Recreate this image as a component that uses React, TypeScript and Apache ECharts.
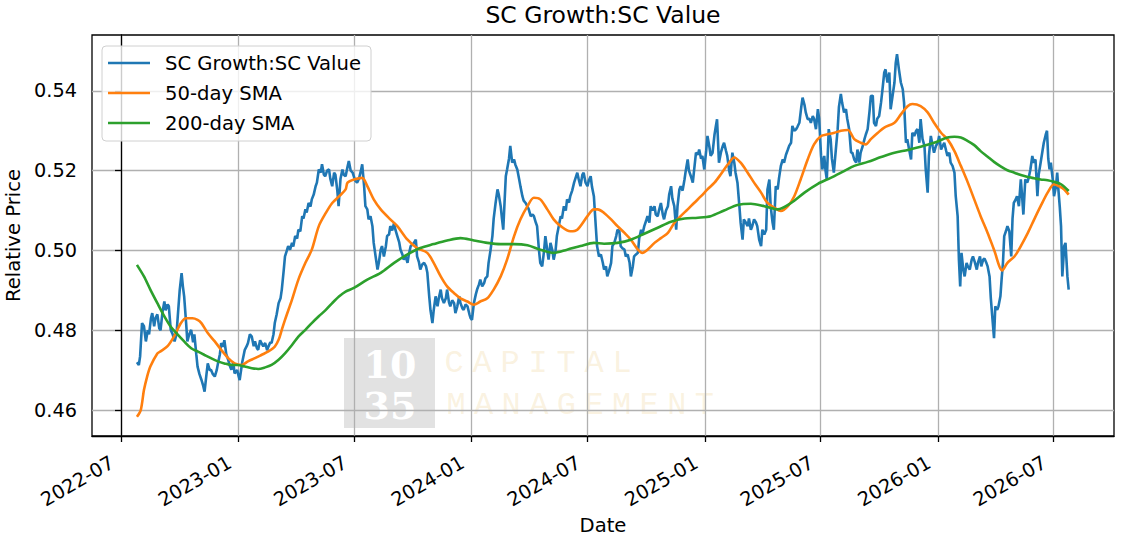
import React, { useEffect, useRef } from "react";
import * as echarts from "echarts";

// x positions are days counted from 2022-07-01
const xTickDays = [0, 184, 365, 549, 731, 915, 1096, 1280, 1461];
const xTickLabels = ["2022-07", "2023-01", "2023-07", "2024-01", "2024-07", "2025-01", "2025-07", "2026-01", "2026-07"];
const yTicks = [0.46, 0.48, 0.5, 0.52, 0.54];

const ratio: [number, number][] = [
  [25, 0.4720], [28, 0.4713], [30, 0.4735], [33, 0.4818], [36, 0.4810], [39, 0.4772], [42, 0.4800], [44, 0.4790],
  [47, 0.4830], [49, 0.4843], [52, 0.4810], [54, 0.4830], [57, 0.4840], [60, 0.4805], [62, 0.4800], [65, 0.4845],
  [68, 0.4872], [70, 0.4850], [73, 0.4865], [75, 0.4860], [78, 0.4801], [81, 0.4790], [84, 0.4772], [87, 0.4790],
  [89, 0.4835], [92, 0.4900], [95, 0.4943], [97, 0.4910], [99, 0.4885], [102, 0.4820], [104, 0.4772], [107, 0.4790],
  [110, 0.4801], [113, 0.4770], [115, 0.4790], [118, 0.4740], [120, 0.4709], [123, 0.4690], [126, 0.4676], [129, 0.4660],
  [131, 0.4646], [134, 0.4690], [136, 0.4717], [139, 0.4700], [141, 0.4701], [144, 0.4690], [147, 0.4684], [150, 0.4700],
  [152, 0.4717], [155, 0.4740], [157, 0.4768], [160, 0.4759], [162, 0.4775], [165, 0.4740], [168, 0.4726], [171, 0.4709],
  [173, 0.4701], [176, 0.4720], [178, 0.4692], [182, 0.4700], [186, 0.4675], [190, 0.4720], [194, 0.4751], [197, 0.4760],
  [199, 0.4768], [202, 0.4790], [205, 0.4784], [208, 0.4760], [210, 0.4772], [213, 0.4755], [215, 0.4751], [218, 0.4775],
  [220, 0.4768], [223, 0.4760], [226, 0.4768], [229, 0.4750], [231, 0.4759], [234, 0.4770], [236, 0.4768], [239, 0.4790],
  [241, 0.4818], [244, 0.4840], [247, 0.4868], [250, 0.4880], [252, 0.4902], [255, 0.4950], [257, 0.4985], [260, 0.5000],
  [262, 0.5011], [265, 0.5002], [268, 0.5019], [270, 0.5010], [273, 0.5036], [276, 0.5030], [278, 0.5052], [281, 0.5048],
  [284, 0.5086], [286, 0.5080], [289, 0.5103], [291, 0.5095], [294, 0.5119], [297, 0.5110], [299, 0.5128], [302, 0.5140],
  [305, 0.5161], [307, 0.5170], [310, 0.5203], [313, 0.5195], [315, 0.5216], [318, 0.5190], [320, 0.5186], [323, 0.5200],
  [326, 0.5203], [328, 0.5180], [331, 0.5161], [334, 0.5195], [336, 0.5190], [339, 0.5150], [341, 0.5111], [344, 0.5180],
  [347, 0.5203], [349, 0.5190], [352, 0.5186], [355, 0.5210], [357, 0.5224], [360, 0.5200], [363, 0.5195], [367, 0.5175],
  [370, 0.5170], [373, 0.5180], [376, 0.5200], [378, 0.5216], [381, 0.5161], [383, 0.5111], [386, 0.5103], [388, 0.5078],
  [391, 0.5086], [394, 0.5061], [396, 0.5019], [399, 0.4985], [402, 0.4952], [404, 0.4969], [407, 0.5002], [409, 0.5011],
  [412, 0.4985], [415, 0.5010], [417, 0.5036], [420, 0.5040], [422, 0.5061], [425, 0.5050], [428, 0.5069], [430, 0.5052],
  [433, 0.5036], [436, 0.5020], [438, 0.5002], [441, 0.4990], [443, 0.4977], [446, 0.4985], [449, 0.4969], [451, 0.4990],
  [454, 0.5011], [457, 0.5015], [459, 0.5019], [462, 0.5027], [464, 0.4985], [467, 0.4970], [469, 0.4952], [472, 0.4965],
  [475, 0.4969], [478, 0.4960], [480, 0.4945], [483, 0.4885], [485, 0.4850], [488, 0.4818], [490, 0.4850], [493, 0.4885],
  [496, 0.4860], [498, 0.4880], [501, 0.4902], [503, 0.4880], [506, 0.4868], [509, 0.4880], [511, 0.4902], [514, 0.4870],
  [516, 0.4860], [519, 0.4875], [522, 0.4868], [524, 0.4843], [527, 0.4860], [530, 0.4885], [532, 0.4868], [535, 0.4855],
  [537, 0.4851], [540, 0.4865], [543, 0.4860], [546, 0.4840], [548, 0.4830], [550, 0.4826], [553, 0.4868], [556, 0.4890],
  [558, 0.4902], [561, 0.4915], [563, 0.4927], [566, 0.4910], [569, 0.4918], [571, 0.4930], [574, 0.4935], [576, 0.4969],
  [579, 0.5000], [582, 0.5036], [584, 0.5080], [587, 0.5119], [590, 0.5153], [592, 0.5140], [595, 0.5111], [597, 0.5080],
  [599, 0.5052], [601, 0.5120], [603, 0.5186], [605, 0.5203], [608, 0.5230], [610, 0.5262], [613, 0.5220], [616, 0.5228],
  [618, 0.5215], [621, 0.5203], [624, 0.5178], [626, 0.5160], [629, 0.5136], [631, 0.5125], [634, 0.5119], [637, 0.5110],
  [639, 0.5103], [642, 0.5086], [645, 0.5090], [647, 0.5086], [650, 0.5070], [652, 0.5061], [655, 0.5000], [657, 0.4969],
  [660, 0.4960], [663, 0.5000], [665, 0.5036], [668, 0.5000], [670, 0.4977], [673, 0.5019], [676, 0.5000], [678, 0.4977],
  [681, 0.5000], [683, 0.5036], [686, 0.5061], [689, 0.5086], [691, 0.5080], [694, 0.5111], [697, 0.5100], [699, 0.5128],
  [702, 0.5120], [704, 0.5136], [707, 0.5150], [710, 0.5170], [712, 0.5180], [715, 0.5195], [717, 0.5180], [720, 0.5161],
  [723, 0.5190], [725, 0.5195], [728, 0.5170], [731, 0.5161], [733, 0.5175], [736, 0.5186], [738, 0.5160], [741, 0.5136],
  [744, 0.5060], [746, 0.5011], [749, 0.4985], [752, 0.4990], [755, 0.4969], [757, 0.4952], [760, 0.4960], [762, 0.4935],
  [765, 0.4950], [768, 0.4969], [770, 0.5011], [773, 0.5019], [776, 0.5036], [778, 0.5052], [781, 0.5048], [783, 0.5011],
  [786, 0.5005], [789, 0.5002], [791, 0.4985], [794, 0.4990], [797, 0.4969], [799, 0.4935], [802, 0.4960], [804, 0.4985],
  [807, 0.4990], [810, 0.4994], [812, 0.5030], [815, 0.5052], [817, 0.5040], [820, 0.5061], [823, 0.5075], [825, 0.5086],
  [828, 0.5070], [830, 0.5111], [833, 0.5100], [836, 0.5111], [838, 0.5090], [841, 0.5086], [843, 0.5100], [846, 0.5119],
  [849, 0.5090], [851, 0.5078], [854, 0.5100], [857, 0.5111], [859, 0.5140], [862, 0.5161], [864, 0.5130], [867, 0.5111],
  [870, 0.5052], [872, 0.5110], [875, 0.5153], [877, 0.5161], [880, 0.5150], [883, 0.5178], [885, 0.5200], [888, 0.5228],
  [890, 0.5200], [893, 0.5186], [896, 0.5170], [898, 0.5200], [901, 0.5245], [904, 0.5240], [906, 0.5253], [909, 0.5230],
  [911, 0.5237], [914, 0.5203], [917, 0.5250], [919, 0.5287], [922, 0.5260], [924, 0.5237], [927, 0.5245], [930, 0.5290],
  [932, 0.5310], [934, 0.5329], [937, 0.5220], [940, 0.5245], [943, 0.5262], [945, 0.5270], [948, 0.5250], [950, 0.5237],
  [953, 0.5200], [955, 0.5186], [958, 0.5245], [961, 0.5220], [963, 0.5195], [966, 0.5170], [969, 0.5111], [971, 0.5069],
  [974, 0.5027], [976, 0.5078], [979, 0.5070], [982, 0.5061], [984, 0.5080], [987, 0.5052], [989, 0.5060], [992, 0.5078],
  [995, 0.5070], [997, 0.5061], [1000, 0.5027], [1003, 0.5011], [1005, 0.5052], [1008, 0.5040], [1011, 0.5052], [1013, 0.5153],
  [1016, 0.5178], [1018, 0.5111], [1021, 0.5070], [1023, 0.5052], [1026, 0.5161], [1029, 0.5153], [1031, 0.5180], [1034, 0.5212],
  [1037, 0.5228], [1039, 0.5220], [1042, 0.5240], [1045, 0.5253], [1047, 0.5262], [1050, 0.5270], [1052, 0.5312], [1055, 0.5300],
  [1058, 0.5304], [1060, 0.5310], [1063, 0.5320], [1066, 0.5360], [1068, 0.5383], [1071, 0.5365], [1073, 0.5346], [1076, 0.5329],
  [1079, 0.5330], [1081, 0.5320], [1084, 0.5337], [1086, 0.5330], [1089, 0.5304], [1092, 0.5354], [1094, 0.5330], [1097, 0.5237],
  [1099, 0.5203], [1102, 0.5237], [1104, 0.5200], [1106, 0.5178], [1109, 0.5304], [1112, 0.5279], [1114, 0.5230], [1117, 0.5195],
  [1120, 0.5250], [1123, 0.5304], [1125, 0.5360], [1128, 0.5392], [1130, 0.5370], [1133, 0.5346], [1136, 0.5354], [1138, 0.5330],
  [1141, 0.5304], [1144, 0.5245], [1146, 0.5245], [1149, 0.5228], [1152, 0.5220], [1154, 0.5253], [1157, 0.5220], [1159, 0.5245],
  [1162, 0.5260], [1165, 0.5279], [1167, 0.5290], [1170, 0.5304], [1173, 0.5350], [1175, 0.5387], [1178, 0.5388], [1180, 0.5320],
  [1183, 0.5312], [1185, 0.5330], [1188, 0.5337], [1191, 0.5371], [1193, 0.5400], [1196, 0.5446], [1198, 0.5454], [1201, 0.5421],
  [1204, 0.5446], [1206, 0.5354], [1209, 0.5387], [1212, 0.5421], [1214, 0.5470], [1216, 0.5492], [1219, 0.5454], [1222, 0.5421],
  [1225, 0.5404], [1227, 0.5371], [1230, 0.5270], [1232, 0.5279], [1235, 0.5253], [1238, 0.5228], [1240, 0.5295], [1243, 0.5287],
  [1246, 0.5300], [1248, 0.5304], [1251, 0.5270], [1253, 0.5329], [1256, 0.5279], [1259, 0.5262], [1261, 0.5203], [1264, 0.5145],
  [1266, 0.5237], [1269, 0.5287], [1272, 0.5260], [1274, 0.5245], [1277, 0.5262], [1280, 0.5270], [1282, 0.5287], [1285, 0.5253],
  [1287, 0.5260], [1290, 0.5270], [1293, 0.5250], [1295, 0.5237], [1298, 0.5245], [1300, 0.5220], [1303, 0.5212], [1306, 0.5195],
  [1308, 0.5136], [1311, 0.5086], [1313, 0.4977], [1315, 0.4910], [1317, 0.4994], [1320, 0.4950], [1322, 0.4935], [1325, 0.4969],
  [1327, 0.4960], [1330, 0.4952], [1333, 0.4977], [1335, 0.4985], [1338, 0.4970], [1341, 0.4952], [1343, 0.4970], [1346, 0.4985],
  [1348, 0.4960], [1351, 0.4977], [1353, 0.4980], [1356, 0.4969], [1358, 0.4960], [1361, 0.4935], [1363, 0.4880], [1366, 0.4820],
  [1368, 0.4780], [1370, 0.4860], [1373, 0.4851], [1375, 0.4860], [1378, 0.4885], [1380, 0.4930], [1382, 0.4969], [1384, 0.5036],
  [1387, 0.5050], [1389, 0.5061], [1392, 0.5048], [1395, 0.4985], [1397, 0.5080], [1399, 0.5119], [1402, 0.5128], [1404, 0.5136],
  [1407, 0.5111], [1410, 0.5178], [1412, 0.5136], [1414, 0.5090], [1417, 0.5178], [1420, 0.5170], [1422, 0.5180], [1425, 0.5203],
  [1428, 0.5237], [1430, 0.5220], [1433, 0.5228], [1436, 0.5136], [1438, 0.5190], [1441, 0.5220], [1444, 0.5250], [1446, 0.5270],
  [1449, 0.5290], [1451, 0.5300], [1453, 0.5230], [1455, 0.5203], [1457, 0.5220], [1460, 0.5178], [1462, 0.5136], [1465, 0.5160],
  [1467, 0.5195], [1469, 0.5150], [1471, 0.5110], [1473, 0.5061], [1475, 0.4935], [1478, 0.5011], [1480, 0.5019], [1483, 0.4935],
  [1485, 0.4902],
];

const sma50: [number, number][] = [
  [25, 0.4583], [31, 0.4600], [36, 0.4650], [41, 0.4684], [46, 0.4709], [57, 0.4742], [62, 0.4747], [73, 0.4760],
  [83, 0.4784], [94, 0.4818], [102, 0.4830], [112, 0.4830], [120, 0.4826], [126, 0.4818], [136, 0.4793], [147, 0.4772],
  [157, 0.4751], [168, 0.4730], [178, 0.4717], [189, 0.4713], [199, 0.4722], [210, 0.4730], [220, 0.4738], [231, 0.4747],
  [241, 0.4759], [247, 0.4776], [252, 0.4801], [257, 0.4826], [268, 0.4877], [278, 0.4927], [289, 0.4969], [299, 0.5002],
  [310, 0.5061], [321, 0.5094], [331, 0.5119], [342, 0.5136], [352, 0.5153], [355, 0.5170], [365, 0.5178], [378, 0.5182],
  [386, 0.5161], [396, 0.5128], [407, 0.5103], [422, 0.5078], [433, 0.5061], [449, 0.5027], [464, 0.5006], [480, 0.4994],
  [490, 0.4969], [501, 0.4935], [511, 0.4910], [522, 0.4893], [532, 0.4880], [543, 0.4872], [553, 0.4864], [563, 0.4872],
  [574, 0.4880], [584, 0.4902], [595, 0.4935], [605, 0.4977], [616, 0.5036], [626, 0.5078], [637, 0.5111], [647, 0.5132],
  [657, 0.5128], [668, 0.5103], [678, 0.5078], [689, 0.5061], [704, 0.5048], [715, 0.5052], [731, 0.5086], [741, 0.5103],
  [747, 0.5103], [757, 0.5094], [768, 0.5078], [778, 0.5061], [789, 0.5044], [799, 0.5027], [810, 0.5002], [817, 0.4994],
  [825, 0.5002], [836, 0.5019], [846, 0.5031], [857, 0.5044], [867, 0.5069], [877, 0.5086], [888, 0.5103], [898, 0.5119],
  [909, 0.5136], [919, 0.5153], [930, 0.5170], [940, 0.5191], [951, 0.5216], [961, 0.5233], [971, 0.5220], [982, 0.5195],
  [992, 0.5170], [1003, 0.5145], [1013, 0.5119], [1024, 0.5107], [1034, 0.5099], [1045, 0.5111], [1055, 0.5136], [1065, 0.5178],
  [1076, 0.5228], [1086, 0.5266], [1097, 0.5287], [1107, 0.5291], [1118, 0.5295], [1128, 0.5300], [1139, 0.5302], [1149, 0.5279],
  [1159, 0.5270], [1167, 0.5266], [1175, 0.5279], [1186, 0.5295], [1196, 0.5308], [1212, 0.5320], [1222, 0.5341], [1233, 0.5362],
  [1240, 0.5367], [1253, 0.5362], [1264, 0.5346], [1274, 0.5320], [1285, 0.5295], [1295, 0.5279], [1306, 0.5249], [1316, 0.5212],
  [1327, 0.5170], [1337, 0.5128], [1347, 0.5086], [1358, 0.5044], [1368, 0.5002], [1381, 0.4950], [1389, 0.4969], [1400, 0.4985],
  [1410, 0.5011], [1421, 0.5044], [1431, 0.5078], [1441, 0.5111], [1452, 0.5145], [1462, 0.5166], [1470, 0.5161], [1478, 0.5153],
  [1485, 0.5140],
];

const sma200: [number, number][] = [
  [25, 0.4964], [36, 0.4935], [46, 0.4902], [57, 0.4868], [68, 0.4835], [78, 0.4809], [89, 0.4789], [99, 0.4772],
  [110, 0.4755], [120, 0.4747], [131, 0.4738], [141, 0.4730], [152, 0.4722], [162, 0.4717], [173, 0.4713], [183, 0.4713],
  [194, 0.4709], [205, 0.4705], [215, 0.4703], [226, 0.4707], [236, 0.4713], [247, 0.4726], [257, 0.4742], [268, 0.4763],
  [278, 0.4784], [289, 0.4801], [299, 0.4818], [310, 0.4835], [321, 0.4851], [331, 0.4868], [342, 0.4885], [352, 0.4897],
  [365, 0.4906], [386, 0.4927], [407, 0.4944], [428, 0.4969], [449, 0.4990], [469, 0.5006], [490, 0.5016], [511, 0.5025],
  [532, 0.5031], [553, 0.5025], [574, 0.5019], [595, 0.5016], [616, 0.5016], [637, 0.5013], [657, 0.5002], [678, 0.4994],
  [699, 0.5002], [720, 0.5011], [741, 0.5019], [757, 0.5017], [778, 0.5019], [799, 0.5027], [820, 0.5042], [841, 0.5057],
  [862, 0.5072], [883, 0.5080], [904, 0.5082], [924, 0.5086], [945, 0.5100], [966, 0.5114], [987, 0.5117], [1008, 0.5111],
  [1029, 0.5103], [1050, 0.5119], [1071, 0.5145], [1092, 0.5167], [1112, 0.5182], [1133, 0.5199], [1149, 0.5212], [1170, 0.5222],
  [1191, 0.5234], [1212, 0.5245], [1233, 0.5252], [1253, 0.5260], [1274, 0.5270], [1295, 0.5283], [1306, 0.5285], [1316, 0.5283],
  [1327, 0.5274], [1337, 0.5264], [1347, 0.5249], [1358, 0.5235], [1368, 0.5222], [1379, 0.5210], [1389, 0.5201], [1400, 0.5195],
  [1410, 0.5189], [1421, 0.5184], [1431, 0.5181], [1441, 0.5178], [1452, 0.5176], [1462, 0.5172], [1473, 0.5166], [1485, 0.5149],
];

const FONT = "DejaVu Sans";

const App = () => {
  const chartContainer = useRef<HTMLDivElement>(null);

  useEffect(() => {
    if (!chartContainer.current) return;
    const chart = echarts.init(chartContainer.current, null, { renderer: "svg" });

    const axisBlack = { color: "#000", width: 1.3 };
    const gridLine = { color: "#b0b0b0", width: 1.3 };

    // faint company watermark inside the plot
    const watermark: any[] = [
      { type: "rect", x: 344, y: 338, shape: { width: 91, height: 90 }, style: { fill: "rgba(190,190,190,0.45)" }, silent: true },
      { type: "text", x: 390, y: 364, style: { text: "10", fill: "#fff", font: "bold 38px 'DejaVu Serif'", align: "center", verticalAlign: "middle" }, silent: true },
      { type: "text", x: 390, y: 405, style: { text: "35", fill: "#fff", font: "bold 38px 'DejaVu Serif'", align: "center", verticalAlign: "middle" }, silent: true },
    ];
    "CAPITAL".split("").forEach((ch, i) => {
      watermark.push({ type: "text", x: 454 + i * 28, y: 363, silent: true,
        style: { text: ch, fill: "rgba(238,212,150,0.3)", font: "32px 'Liberation Mono'", align: "center", verticalAlign: "middle" } });
    });
    "MANAGEMENT".split("").forEach((ch, i) => {
      watermark.push({ type: "text", x: 456 + i * 27.6, y: 405, silent: true,
        style: { text: ch, fill: "rgba(238,212,150,0.3)", font: "32px 'Liberation Mono'", align: "center", verticalAlign: "middle" } });
    });

    const series = [
      { name: "SC Growth:SC Value", data: ratio, color: "#1f77b4", smooth: false, z: 2 },
      { name: "50-day SMA", data: sma50, color: "#ff7f0e", smooth: 0.3, z: 3 },
      { name: "200-day SMA", data: sma200, color: "#2ca02c", smooth: 0.3, z: 4 },
    ].map((s) => ({
      name: s.name,
      type: "line",
      data: s.data,
      symbol: "none",
      showSymbol: false,
      smooth: s.smooth,
      silent: true,
      color: s.color,
      lineStyle: { color: s.color, width: 2.6 },
      z: s.z,
    }));

    const option: any = {
      animation: false,
      textStyle: { fontFamily: FONT },
      title: {
        text: "SC Growth:SC Value",
        left: 603,
        top: 3,
        padding: 0,
        textAlign: "center",
        textStyle: { fontFamily: FONT, fontSize: 23.5, fontWeight: "normal", color: "#000" },
      },
      legend: {
        orient: "vertical",
        left: 102,
        top: 46,
        icon: "rect",
        itemWidth: 42,
        itemHeight: 2.6,
        itemGap: 10,
        padding: [7, 10, 8, 6],
        backgroundColor: "rgba(255,255,255,0.8)",
        borderColor: "#d0d0d0",
        borderWidth: 1,
        borderRadius: 4,
        textStyle: { fontFamily: FONT, fontSize: 19.6, lineHeight: 20, color: "#000", padding: [0, 0, 0, 10] },
        data: series.map((s) => s.name),
      },
      grid: {
        left: 92,
        right: 16,
        top: 35,
        bottom: 104,
        outerBoundsMode: "none",
        containLabel: false,
        show: true,
        borderColor: "#000",
        borderWidth: 1.3,
        backgroundColor: "transparent",
      },
      xAxis: {
        type: "value",
        min: -45.4,
        max: 1556,
        name: "Date",
        nameLocation: "middle",
        nameGap: 76,
        nameTextStyle: { fontFamily: FONT, fontSize: 19.6, color: "#000" },
        axisLine: { show: true, lineStyle: axisBlack },
        axisTick: { show: true, customValues: xTickDays, length: 6, lineStyle: axisBlack },
        axisLabel: {
          customValues: xTickDays,
          rotate: 30,
          margin: 20,
          padding: [0, 10, 0, 0],
          fontFamily: FONT,
          fontSize: 19.3,
          color: "#000",
          formatter: (v: number) => xTickLabels[xTickDays.indexOf(v)] ?? "",
        },
        splitLine: { show: true, lineStyle: gridLine },
      },
      yAxis: {
        type: "value",
        min: 0.4535,
        max: 0.554,
        name: "Relative Price",
        nameLocation: "middle",
        nameGap: 69,
        nameTextStyle: { fontFamily: FONT, fontSize: 19.6, color: "#000" },
        axisLine: { show: true, lineStyle: axisBlack },
        axisTick: { show: true, customValues: yTicks, length: 6, lineStyle: axisBlack },
        axisLabel: {
          customValues: yTicks,
          margin: 15,
          fontFamily: FONT,
          fontSize: 19.3,
          color: "#000",
          formatter: (v: number) => v.toFixed(2),
        },
        splitLine: { show: true, lineStyle: gridLine },
      },
      series,
      graphic: watermark,
    };

    chart.setOption(option);

    return () => {
      chart.dispose();
    };
  }, []);

  return (
    <div
      ref={chartContainer}
      style={{ position: "absolute", left: 0, top: 0, width: 1130, height: 540, background: "#fff" }}
    />
  );
};

export default App;
